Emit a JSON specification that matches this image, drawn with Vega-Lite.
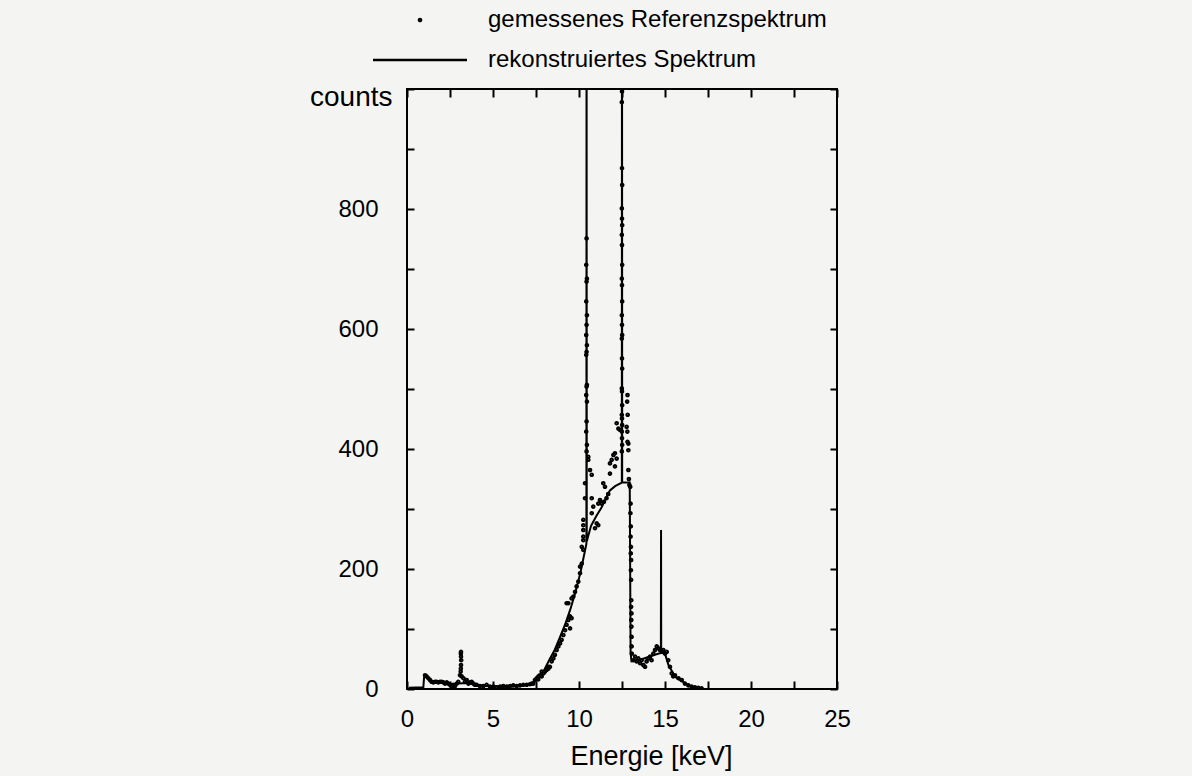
{
  "$schema": "https://vega.github.io/schema/vega-lite/v6.json",
  "width": 430,
  "height": 600,
  "autosize": {"type": "none"},
  "padding": {"left": 407, "top": 89, "right": 355, "bottom": 87},
  "background": "#f4f4f3",
  "config": {
    "font": "Liberation Sans",
    "view": {"stroke": "black", "strokeWidth": 2},
    "axis": {"domain": false, "grid": false, "tickColor": "black", "tickWidth": 2, "labelColor": "black", "titleColor": "black", "labelFontSize": 24, "titleFontSize": 24, "titleFontWeight": "normal", "labelOverlap": false, "labelFlush": false}
  },
  "datasets": {
    "gemessen": [
      {"E":1.05,"counts":23},{"E":1.14,"counts":21},{"E":1.24,"counts":18},{"E":1.34,"counts":15},{"E":1.43,"counts":12},{"E":1.53,"counts":11},{"E":1.63,"counts":12},{"E":1.72,"counts":12},{"E":1.82,"counts":11},{"E":1.92,"counts":12},{"E":2.02,"counts":12},{"E":2.11,"counts":11},{"E":2.21,"counts":9},{"E":2.31,"counts":11},{"E":2.40,"counts":9},{"E":2.50,"counts":7},{"E":2.60,"counts":4},{"E":2.69,"counts":7},{"E":2.79,"counts":5},{"E":2.89,"counts":9},{"E":2.98,"counts":12},{"E":3.08,"counts":23},{"E":3.12,"counts":29},{"E":3.13,"counts":34},{"E":3.14,"counts":40},{"E":3.15,"counts":48},{"E":3.14,"counts":54},{"E":3.13,"counts":59},{"E":3.14,"counts":62},{"E":3.18,"counts":21},{"E":3.28,"counts":18},{"E":3.37,"counts":12},{"E":3.47,"counts":15},{"E":3.57,"counts":9},{"E":3.66,"counts":11},{"E":3.76,"counts":12},{"E":3.86,"counts":9},{"E":3.95,"counts":7},{"E":4.05,"counts":7},{"E":4.24,"counts":5},{"E":4.44,"counts":5},{"E":4.63,"counts":7},{"E":4.83,"counts":4},{"E":5.02,"counts":4},{"E":5.21,"counts":3},{"E":5.41,"counts":4},{"E":5.60,"counts":5},{"E":5.80,"counts":4},{"E":5.99,"counts":5},{"E":6.18,"counts":6},{"E":6.38,"counts":5},{"E":6.57,"counts":6},{"E":6.76,"counts":7},{"E":6.96,"counts":7},{"E":7.15,"counts":8},{"E":7.25,"counts":9},{"E":7.34,"counts":9},{"E":7.44,"counts":15},{"E":7.54,"counts":18},{"E":7.63,"counts":16},{"E":7.64,"counts":21},{"E":7.73,"counts":23},{"E":7.83,"counts":21},{"E":7.83,"counts":29},{"E":7.93,"counts":26},{"E":8.02,"counts":29},{"E":8.12,"counts":32},{"E":8.22,"counts":37},{"E":8.22,"counts":34},
      {"E":8.31,"counts":37},{"E":8.41,"counts":46},{"E":8.51,"counts":51},{"E":8.60,"counts":57},{"E":8.70,"counts":65},{"E":8.80,"counts":71},{"E":8.90,"counts":76},{"E":8.99,"counts":82},{"E":9.09,"counts":90},{"E":9.19,"counts":98},{"E":9.28,"counts":107},{"E":9.38,"counts":115},{"E":9.48,"counts":121},{"E":9.57,"counts":118},{"E":9.48,"counts":101},{"E":9.28,"counts":143},{"E":9.38,"counts":143},{"E":9.57,"counts":151},{"E":9.67,"counts":154},{"E":9.77,"counts":162},{"E":9.86,"counts":171},{"E":9.96,"counts":179},{"E":10.06,"counts":193},{"E":10.06,"counts":204},{"E":10.16,"counts":209},{"E":10.25,"counts":232},{"E":10.16,"counts":237},{"E":10.25,"counts":248},{"E":10.25,"counts":254},{"E":10.25,"counts":265},{"E":10.25,"counts":273},{"E":10.25,"counts":282},{"E":10.35,"counts":318},{"E":10.35,"counts":343},{"E":10.54,"counts":382},{"E":10.64,"counts":365},{"E":10.74,"counts":357},{"E":10.74,"counts":318},{"E":10.54,"counts":387},{"E":10.74,"counts":293},{"E":10.83,"counts":304},
      {"E":10.44,"counts":751},{"E":10.42,"counts":707},{"E":10.46,"counts":684},{"E":10.44,"counts":679},{"E":10.42,"counts":646},{"E":10.46,"counts":623},{"E":10.44,"counts":607},{"E":10.42,"counts":590},{"E":10.46,"counts":573},{"E":10.44,"counts":562},{"E":10.42,"counts":557},{"E":10.46,"counts":507},{"E":10.44,"counts":504},{"E":10.42,"counts":490},{"E":10.46,"counts":479},{"E":10.44,"counts":446},{"E":10.42,"counts":429},{"E":10.46,"counts":407},{"E":10.44,"counts":396},
      {"E":10.93,"counts":268},{"E":11.03,"counts":276},{"E":11.12,"counts":273},{"E":11.12,"counts":309},{"E":11.22,"counts":315},{"E":11.32,"counts":309},{"E":11.41,"counts":343},{"E":11.45,"counts":312},{"E":11.51,"counts":337},{"E":11.6,"counts":318},{"E":11.7,"counts":325},{"E":11.80,"counts":359},{"E":11.80,"counts":376},{"E":11.90,"counts":382},{"E":12.00,"counts":390},{"E":12.09,"counts":393},{"E":12.09,"counts":371},{"E":12.19,"counts":384},{"E":12.19,"counts":443},{"E":12.29,"counts":434},{"E":12.38,"counts":432},{"E":12.77,"counts":437},{"E":12.87,"counts":409},{"E":12.87,"counts":398},{"E":12.87,"counts":365},{"E":12.9,"counts":350},{"E":12.93,"counts":340},
      {"E":12.5,"counts":996},{"E":12.49,"counts":978},{"E":12.5,"counts":868},{"E":12.51,"counts":840},{"E":12.49,"counts":801},{"E":12.5,"counts":784},{"E":12.51,"counts":773},{"E":12.49,"counts":757},{"E":12.5,"counts":740},{"E":12.51,"counts":707},{"E":12.49,"counts":684},{"E":12.5,"counts":673},{"E":12.51,"counts":646},{"E":12.49,"counts":623},{"E":12.5,"counts":607},{"E":12.51,"counts":590},{"E":12.49,"counts":584},{"E":12.5,"counts":551},{"E":12.51,"counts":534},{"E":12.49,"counts":501},{"E":12.5,"counts":496},{"E":12.51,"counts":473},{"E":12.49,"counts":457},{"E":12.5,"counts":451},{"E":12.51,"counts":440},{"E":12.49,"counts":429},{"E":12.5,"counts":418},{"E":12.51,"counts":407},{"E":12.49,"counts":396},
      {"E":12.82,"counts":490},{"E":12.8,"counts":479},{"E":12.83,"counts":457},{"E":12.81,"counts":429},{"E":12.82,"counts":412},
      {"E":12.98,"counts":337},{"E":13.0,"counts":309},{"E":12.99,"counts":293},{"E":13.01,"counts":271},{"E":13.0,"counts":254},{"E":13.02,"counts":237},{"E":13.01,"counts":226},{"E":13.03,"counts":215},{"E":13.02,"counts":198},{"E":13.03,"counts":182},{"E":13.04,"counts":148},{"E":13.03,"counts":137},{"E":13.05,"counts":126},{"E":13.04,"counts":115},{"E":13.05,"counts":104},{"E":13.06,"counts":87},{"E":13.06,"counts":71},{"E":13.07,"counts":59},
      {"E":13.16,"counts":48},{"E":13.26,"counts":54},{"E":13.35,"counts":46},{"E":13.45,"counts":51},{"E":13.55,"counts":43},{"E":13.64,"counts":48},{"E":13.74,"counts":40},{"E":13.84,"counts":37},{"E":13.93,"counts":46},{"E":14.03,"counts":51},{"E":14.13,"counts":54},{"E":14.22,"counts":48},{"E":14.32,"counts":59},{"E":14.42,"counts":65},{"E":14.52,"counts":71},{"E":14.61,"counts":68},{"E":14.71,"counts":65},{"E":14.81,"counts":62},{"E":14.90,"counts":65},{"E":15.0,"counts":59},{"E":15.10,"counts":62},{"E":15.19,"counts":48},{"E":15.29,"counts":37},{"E":15.39,"counts":26},{"E":15.48,"counts":21},{"E":15.58,"counts":23},{"E":15.78,"counts":18},{"E":15.97,"counts":15},{"E":16.16,"counts":9},{"E":16.36,"counts":6},{"E":16.55,"counts":4},{"E":16.74,"counts":3},{"E":16.94,"counts":2},{"E":17.13,"counts":1}
    ],
    "rekonstruiert": [
      {"E":0.1,"counts":2},{"E":0.95,"counts":3},{"E":1.0,"counts":22},{"E":1.2,"counts":18},{"E":1.4,"counts":13},{"E":1.7,"counts":11},{"E":2.2,"counts":10},{"E":2.6,"counts":8},{"E":3.0,"counts":9},{"E":3.5,"counts":10},{"E":4.0,"counts":7},{"E":4.5,"counts":5},{"E":5.5,"counts":4},{"E":6.5,"counts":5},{"E":7.0,"counts":7},{"E":7.3,"counts":10},{"E":7.7,"counts":20},{"E":8.0,"counts":33},{"E":8.3,"counts":50},{"E":8.6,"counts":66},{"E":8.9,"counts":87},{"E":9.2,"counts":108},{"E":9.5,"counts":133},{"E":9.8,"counts":162},{"E":10.1,"counts":196},{"E":10.43,"counts":242},{"E":10.44,"counts":1400},{"E":10.45,"counts":246},{"E":10.7,"counts":272},{"E":11.0,"counts":288},{"E":11.3,"counts":302},{"E":11.6,"counts":320},{"E":11.8,"counts":331},{"E":12.1,"counts":338},{"E":12.49,"counts":344},{"E":12.5,"counts":1400},{"E":12.51,"counts":344},{"E":12.95,"counts":344},{"E":13.0,"counts":60},{"E":13.05,"counts":46},{"E":13.45,"counts":48},{"E":14.0,"counts":53},{"E":14.5,"counts":58},{"E":14.76,"counts":60},{"E":14.77,"counts":265},{"E":14.78,"counts":60},{"E":15.0,"counts":59},{"E":15.2,"counts":40},{"E":15.6,"counts":20},{"E":16.2,"counts":9},{"E":16.7,"counts":2},{"E":17.2,"counts":0}
    ]
  },
  "layer": [
    {
      "data": {"name": "gemessen"},
      "mark": {"type": "point", "filled": false, "size": 100, "strokeWidth": 2.6, "color": "black", "opacity": 1, "clip": true},
      "encoding": {
        "x": {
          "field": "E", "type": "quantitative",
          "scale": {"domain": [0, 25], "nice": false, "zero": false},
          "axis": {"orient": "bottom", "values": [0, 2.5, 5, 7.5, 10, 12.5, 15, 17.5, 20, 22.5, 25], "labelExpr": "datum.value % 5 === 0 ? datum.label : ''", "tickSize": -8, "labelPadding": 26, "title": "Energie [keV]", "titleFontSize": 27, "titleX": 244, "titleAlign": "center", "titlePadding": 12}
        },
        "y": {
          "field": "counts", "type": "quantitative",
          "scale": {"domain": [0, 1000], "nice": false},
          "axis": {"orient": "left", "values": [0, 100, 200, 300, 400, 500, 600, 700, 800, 900, 1000], "labelExpr": "datum.value % 200 === 0 && datum.value < 1000 ? datum.label : ''", "tickSize": -7, "labelPadding": 36, "title": "counts", "titleFontSize": 28, "titleAngle": 0, "titleAlign": "right", "titleBaseline": "middle", "titleX": -15, "titleY": 8}
        },
        "shape": {
          "datum": "gemessenes Referenzspektrum", "type": "nominal",
          "scale": {
            "domain": ["gemessenes Referenzspektrum", "rekonstruiertes Spektrum"],
            "range": ["M-0.2,0A0.2,0.2,0,1,0,0.2,0A0.2,0.2,0,1,0,-0.2,0Z", "M-9.4,0H9.4"]
          },
          "legend": {
            "orient": "none", "legendX": 1, "legendY": -81, "title": null, "padding": 0,
            "symbolSize": 100, "symbolStrokeWidth": 2.6, "symbolStrokeColor": "black", "symbolOpacity": 1,
            "labelFontSize": 24, "labelColor": "black", "labelOffset": 56, "rowPadding": 16, "labelLimit": 500
          }
        }
      }
    },
    {
      "data": {"name": "rekonstruiert"},
      "mark": {"type": "line", "color": "black", "strokeWidth": 2, "clip": true},
      "encoding": {
        "x": {
          "field": "E", "type": "quantitative",
          "axis": {"orient": "top", "values": [0, 2.5, 5, 7.5, 10, 12.5, 15, 17.5, 20, 22.5, 25], "labels": false, "tickSize": -8, "title": null}
        },
        "y": {
          "field": "counts", "type": "quantitative",
          "axis": {"orient": "right", "values": [0, 100, 200, 300, 400, 500, 600, 700, 800, 900, 1000], "labels": false, "tickSize": -7, "title": null}
        }
      }
    }
  ],
  "resolve": {"axis": {"x": "independent", "y": "independent"}}
}
